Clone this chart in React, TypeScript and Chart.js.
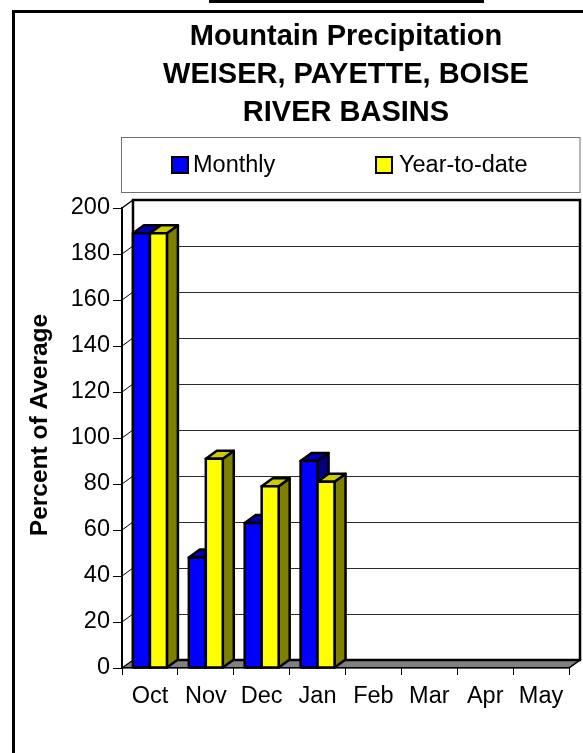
import React, { useEffect, useRef } from "react";
import { Chart, registerables } from "chart.js";

Chart.register(...registerables);

const categories = ["Oct", "Nov", "Dec", "Jan", "Feb", "Mar", "Apr", "May"];
const monthly = [189, 48, 63, 90, null, null, null, null];
const yearToDate = [189, 91, 79, 81, null, null, null, null];
const titleLines = ["Mountain Precipitation", "WEISER, PAYETTE, BOISE", "RIVER BASINS"];
const seriesNames = ["Monthly", "Year-to-date"];
const yTitle = "Percent of Average";

const FONT = '"Liberation Sans", Arial, Helvetica, sans-serif';
const DX = 11;
const DY = 8;

const faceColors = [
  { front: "#0000FF", top: "#0000B0", side: "#000080" },
  { front: "#FFFF00", top: "#CCCC00", side: "#808000" },
];

const decorPlugin = {
  id: "decor3d",
  beforeDraw(chart: any) {
    const { ctx, chartArea } = chart;
    const { left, right, top, bottom } = chartArea;
    const yScale = chart.scales.y;
    ctx.save();
    ctx.fillStyle = "#FFFFFF";
    ctx.fillRect(0, 0, chart.width, chart.height);

    // outer frame and top bar
    ctx.fillStyle = "#000";
    ctx.fillRect(209, 0, 275, 3);
    ctx.fillRect(12, 10, chart.width - 12, 3);
    ctx.fillRect(12, 10, 3, chart.height - 10);

    // title
    ctx.fillStyle = "#000";
    ctx.textAlign = "center";
    ctx.textBaseline = "middle";
    ctx.font = `bold 29px ${FONT}`;
    const ty = [37, 75, 112.5];
    titleLines.forEach((t, i) => ctx.fillText(t, 346, ty[i]));

    // legend
    ctx.lineWidth = 1;
    ctx.strokeStyle = "#707070";
    ctx.strokeRect(121.5, 137.5, 458.5, 55);
    const sq = [172, 376];
    const tx = [193, 399];
    ctx.font = `23.5px ${FONT}`;
    ctx.textAlign = "left";
    seriesNames.forEach((n, i) => {
      ctx.fillStyle = faceColors[i].front;
      ctx.fillRect(sq[i], 157, 16, 16);
      ctx.lineWidth = 2;
      ctx.strokeStyle = "#000";
      ctx.strokeRect(sq[i], 157, 16, 16);
      ctx.fillStyle = "#000";
      ctx.fillText(n, tx[i], 166);
    });

    // y axis title
    ctx.save();
    ctx.translate(40, 425);
    ctx.rotate(-Math.PI / 2);
    ctx.textAlign = "center";
    ctx.textBaseline = "middle";
    ctx.font = `bold 24.5px ${FONT}`;
    ctx.fillText(yTitle, 0, 0);
    ctx.restore();

    // gridlines on back wall + left wall diagonals
    const ticks = yScale.ticks;
    ticks.forEach((t: any) => {
      const yp = yScale.getPixelForValue(t.value);
      if (t.value <= 0 || t.value >= 200) return;
      const yb = Math.round(yp - DY) + 0.5;
      ctx.beginPath();
      ctx.lineWidth = 1;
      ctx.strokeStyle = "#2a2a2a";
      ctx.moveTo(left + DX, yb);
      ctx.lineTo(right + DX, yb);
      ctx.stroke();
      ctx.beginPath();
      ctx.lineWidth = 1;
      ctx.strokeStyle = "#000";
      ctx.moveTo(left, yp);
      ctx.lineTo(left + DX, yp - DY);
      ctx.stroke();
    });

    // floor
    ctx.beginPath();
    ctx.moveTo(left, bottom);
    ctx.lineTo(right, bottom);
    ctx.lineTo(right + DX, bottom - DY);
    ctx.lineTo(left + DX, bottom - DY);
    ctx.closePath();
    ctx.fillStyle = "#808080";
    ctx.fill();
    ctx.lineWidth = 1.2;
    ctx.strokeStyle = "#000";
    ctx.stroke();

    // walls outline
    ctx.lineWidth = 2.5;
    ctx.strokeStyle = "#000";
    ctx.beginPath();
    ctx.moveTo(left + DX, bottom - DY);
    ctx.lineTo(left + DX, top - DY);
    ctx.lineTo(right + DX, top - DY);
    ctx.lineTo(right + DX, bottom - DY);
    ctx.lineTo(left + DX, bottom - DY);
    ctx.stroke();
    ctx.lineWidth = 1.5;
    ctx.beginPath();
    ctx.moveTo(left, top);
    ctx.lineTo(left + DX, top - DY);
    ctx.moveTo(right + DX, bottom - DY);
    ctx.lineTo(right, bottom);
    ctx.stroke();
    ctx.restore();
  },
  afterDatasetsDraw(chart: any) {
    const { ctx } = chart;
    const n = chart.data.labels.length;
    ctx.save();
    ctx.lineWidth = 2.5;
    ctx.strokeStyle = "#000";
    ctx.lineJoin = "round";
    for (let i = 0; i < n; i++) {
      chart.data.datasets.forEach((ds: any, d: number) => {
        if (ds.data[i] == null) return;
        const el = chart.getDatasetMeta(d).data[i];
        if (!el) return;
        const { x, y, base, width } = el.getProps(["x", "y", "base", "width"], true);
        const L = x - width / 2;
        const R = x + width / 2;
        const T = y;
        const B = base;
        const c = faceColors[d];
        // side
        ctx.beginPath();
        ctx.moveTo(R, T);
        ctx.lineTo(R + DX, T - DY);
        ctx.lineTo(R + DX, B - DY);
        ctx.lineTo(R, B);
        ctx.closePath();
        ctx.fillStyle = c.side;
        ctx.fill();
        ctx.stroke();
        // top
        ctx.beginPath();
        ctx.moveTo(L, T);
        ctx.lineTo(R, T);
        ctx.lineTo(R + DX, T - DY);
        ctx.lineTo(L + DX, T - DY);
        ctx.closePath();
        ctx.fillStyle = c.top;
        ctx.fill();
        ctx.stroke();
        // front
        ctx.beginPath();
        ctx.rect(L, T, R - L, B - T);
        ctx.fillStyle = c.front;
        ctx.fill();
        ctx.stroke();
      });
    }
    ctx.restore();
  },
};

export default function App() {
  const ref = useRef<HTMLCanvasElement | null>(null);
  useEffect(() => {
    if (!ref.current) return;
    const tickFont = { family: FONT, size: 23.5 };
    const chart = new Chart(ref.current, {
      type: "bar",
      data: {
        labels: categories,
        datasets: [
          { label: seriesNames[0], data: monthly, backgroundColor: "rgba(0,0,0,0)", borderWidth: 0 },
          { label: seriesNames[1], data: yearToDate, backgroundColor: "rgba(0,0,0,0)", borderWidth: 0 },
        ],
      },
      options: {
        responsive: false,
        animation: false,
        devicePixelRatio: 1,
        layout: { padding: { top: 208, right: 14, left: 0, bottom: 0 } },
        datasets: { bar: { categoryPercentage: 0.608, barPercentage: 1 } },
        plugins: { legend: { display: false }, title: { display: false }, tooltip: { enabled: false } },
        scales: {
          x: {
            grid: { display: true, drawOnChartArea: false, drawTicks: true, tickLength: 7, color: "#000", lineWidth: 1 },
            border: { display: true, color: "#000", width: 1.2 },
            ticks: { font: tickFont, color: "#000", padding: 7, maxRotation: 0, autoSkip: false },
            afterFit: (s: any) => { s.height = 85; },
          },
          y: {
            min: 0,
            max: 200,
            grid: { display: true, drawOnChartArea: false, drawTicks: true, tickLength: 9, color: "#000", lineWidth: 1 },
            border: { display: true, color: "#000", width: 2 },
            ticks: { stepSize: 20, font: tickFont, color: "#000", padding: 3 },
            afterFit: (s: any) => { s.width = 122; },
          },
        },
      },
      plugins: [decorPlugin],
    } as any);
    return () => chart.destroy();
  }, []);
  return (
    <div style={{ position: "fixed", left: 0, top: 0, width: 583, height: 753, background: "#fff" }}>
      <canvas ref={ref} width={583} height={753} style={{ width: 583, height: 753, display: "block" }} />
    </div>
  );
}
